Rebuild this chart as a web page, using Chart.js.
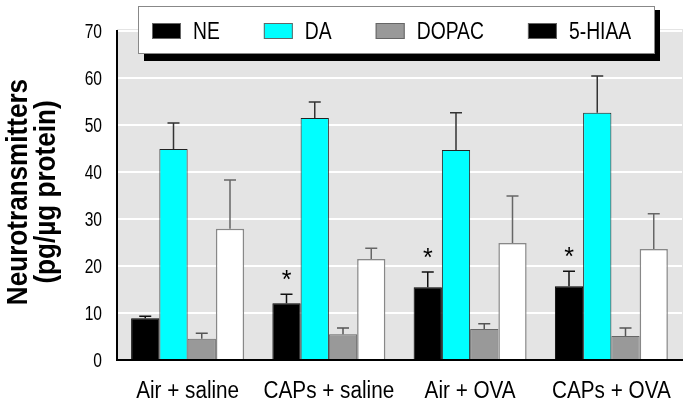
<!DOCTYPE html>
<html>
<head>
<meta charset="utf-8">
<script src="https://cdn.jsdelivr.net/npm/chart.js@4.4.0/dist/chart.umd.min.js"></script>
<style>
  html, body { margin: 0; padding: 0; background: #fff; }
  #wrap { width: 687px; height: 406px; }
</style>
</head>
<body>
<div id="wrap"><canvas id="chart"></canvas></div>
<script>
const groups = ['Air + saline', 'CAPs + saline', 'Air + OVA', 'CAPs + OVA'];
const seriesNames = ['NE', 'DA', 'DOPAC', '5-HIAA'];

const neVals = [8.9, 12.1, 15.5, 15.7];
const daVals = [44.9, 51.5, 44.7, 52.6];
const dopacVals = [4.5, 5.5, 6.6, 5.1];
const hiaaVals = [27.9, 21.5, 24.9, 23.6];

const neErr = [0.4, 1.9, 3.2, 3.2];
const daErr = [5.5, 3.4, 7.9, 7.8];
const dopacErr = [1.2, 1.3, 1.1, 1.7];
const hiaaErr = [10.4, 2.3, 10.0, 7.5];

const stars = ['', '*', '*', '*'];
const yTicks = [0, 10, 20, 30, 40, 50, 60, 70];
const yTitle = ['Neurotransmitters', '(pg/\u00b5g protein)'];

const FONT = '"Liberation Sans", Arial, sans-serif';

// no narrow font installed, so squeeze the text horizontally
function narrowText(ctx, txt, x, y, font, sx, align, base) {
  ctx.save();
  ctx.font = font;
  ctx.textAlign = align || 'left';
  ctx.textBaseline = base || 'alphabetic';
  ctx.translate(x, y);
  ctx.scale(sx, 1);
  ctx.fillText(txt, 0, 0);
  ctx.restore();
}

// gray plot background
const plotBg = {
  id: 'plotBg',
  beforeDraw(chart) {
    const { ctx, chartArea: a } = chart;
    ctx.save();
    ctx.fillStyle = '#e4e4e4';
    ctx.fillRect(a.left, a.top - 2, a.right - a.left + 1, a.bottom - a.top + 2);
    ctx.restore();
  }
};

// error bars + asterisks
const errorBars = {
  id: 'errorBars',
  afterDatasetsDraw(chart) {
    const ctx = chart.ctx;
    const ys = chart.scales.y;
    chart.data.datasets.forEach((ds, i) => {
      const meta = chart.getDatasetMeta(i);
      meta.data.forEach((bar, j) => {
        const top = ys.getPixelForValue(ds.data[j] + ds.err[j]);
        ctx.save();
        ctx.strokeStyle = ds.errColor;
        ctx.lineWidth = 1.5;
        ctx.beginPath();
        ctx.moveTo(bar.x, bar.y);
        ctx.lineTo(bar.x, top);
        ctx.moveTo(bar.x - 6, top);
        ctx.lineTo(bar.x + 6, top);
        ctx.stroke();
        ctx.restore();
        if (i === 0 && stars[j]) {
          ctx.fillStyle = '#000';
          narrowText(ctx, stars[j], bar.x, top - 13, '25px ' + FONT, 1, 'center', 'middle');
        }
      });
    });
  }
};

// tick labels, y title and the boxed legend with drop shadow
const texts = {
  id: 'texts',
  afterDraw(chart) {
    const ctx = chart.ctx;
    const xs = chart.scales.x, ys = chart.scales.y;
    ctx.save();
    ctx.fillStyle = '#000';

    yTicks.forEach(v => {
      narrowText(ctx, String(v), 102, ys.getPixelForValue(v) + 1, '20px ' + FONT, 0.78, 'right', 'middle');
    });
    groups.forEach((g, i) => {
      narrowText(ctx, g, xs.getPixelForTick(i), 398, '23px ' + FONT, 0.9, 'center');
    });

    ctx.save();
    ctx.translate(0, 192);
    ctx.rotate(-Math.PI / 2);
    narrowText(ctx, yTitle[0], 0, 27, 'bold 29px ' + FONT, 0.9, 'center');
    narrowText(ctx, yTitle[1], 0, 55, 'bold 29px ' + FONT, 0.9, 'center');
    ctx.restore();

    ctx.fillStyle = '#000';
    ctx.fillRect(144, 10, 516, 51);
    ctx.fillStyle = '#fff';
    ctx.fillRect(138, 6, 517, 48);
    ctx.strokeStyle = '#888';
    ctx.lineWidth = 1;
    ctx.strokeRect(138.5, 6.5, 516, 47);

    const lf = '23px ' + FONT, lsx = 0.84;
    ctx.font = lf;
    let x = 152;
    chart.data.datasets.forEach(ds => {
      ctx.fillStyle = ds.legendColor;
      ctx.fillRect(x, 23, 29, 16);
      ctx.strokeStyle = '#666';
      ctx.strokeRect(x + 0.5, 23.5, 28, 15);
      x += 29 + 12;
      ctx.fillStyle = '#000';
      narrowText(ctx, ds.label, x, 39, lf, lsx);
      ctx.font = lf;
      x += ctx.measureText(ds.label).width * lsx + 44;
    });
    ctx.restore();
  }
};

new Chart(document.getElementById('chart'), {
  type: 'bar',
  data: {
    labels: groups,
    datasets: [
      { label: seriesNames[0], data: neVals, err: neErr, backgroundColor: '#000', borderColor: '#000',
        borderWidth: 1, errColor: '#111', legendColor: '#000' },
      { label: seriesNames[1], data: daVals, err: daErr, backgroundColor: '#00ffff', borderColor: '#222',
        borderWidth: 1, errColor: '#333', legendColor: '#00ffff' },
      { label: seriesNames[2], data: dopacVals, err: dopacErr, backgroundColor: '#999', borderColor: '#666',
        borderWidth: 1, errColor: '#555', legendColor: '#999' },
      { label: seriesNames[3], data: hiaaVals, err: hiaaErr, backgroundColor: '#fff', borderColor: '#888',
        borderWidth: 1.5, errColor: '#666', legendColor: '#000' }
    ]
  },
  options: {
    responsive: true,
    maintainAspectRatio: false,
    animation: false,
    layout: { padding: { left: 0, right: 5, top: 31, bottom: 0 } },
    plugins: { legend: { display: false }, tooltip: { enabled: false } },
    datasets: { bar: { categoryPercentage: 0.8, barPercentage: 1.0 } },
    scales: {
      x: {
        grid: { display: false, drawTicks: false },
        border: { color: '#000', width: 2 },
        ticks: { display: false },
        afterFit(s) { s.height = 46; }
      },
      y: {
        min: 0,
        max: 70,
        afterBuildTicks(s) { s.ticks = yTicks.map(v => ({ value: v })); },
        grid: { color: '#fff', lineWidth: 2, drawTicks: false },
        border: { color: '#000', width: 2 },
        ticks: { display: false },
        afterFit(s) { s.width = 117; }
      }
    }
  },
  plugins: [plotBg, errorBars, texts]
});
</script>
</body>
</html>
